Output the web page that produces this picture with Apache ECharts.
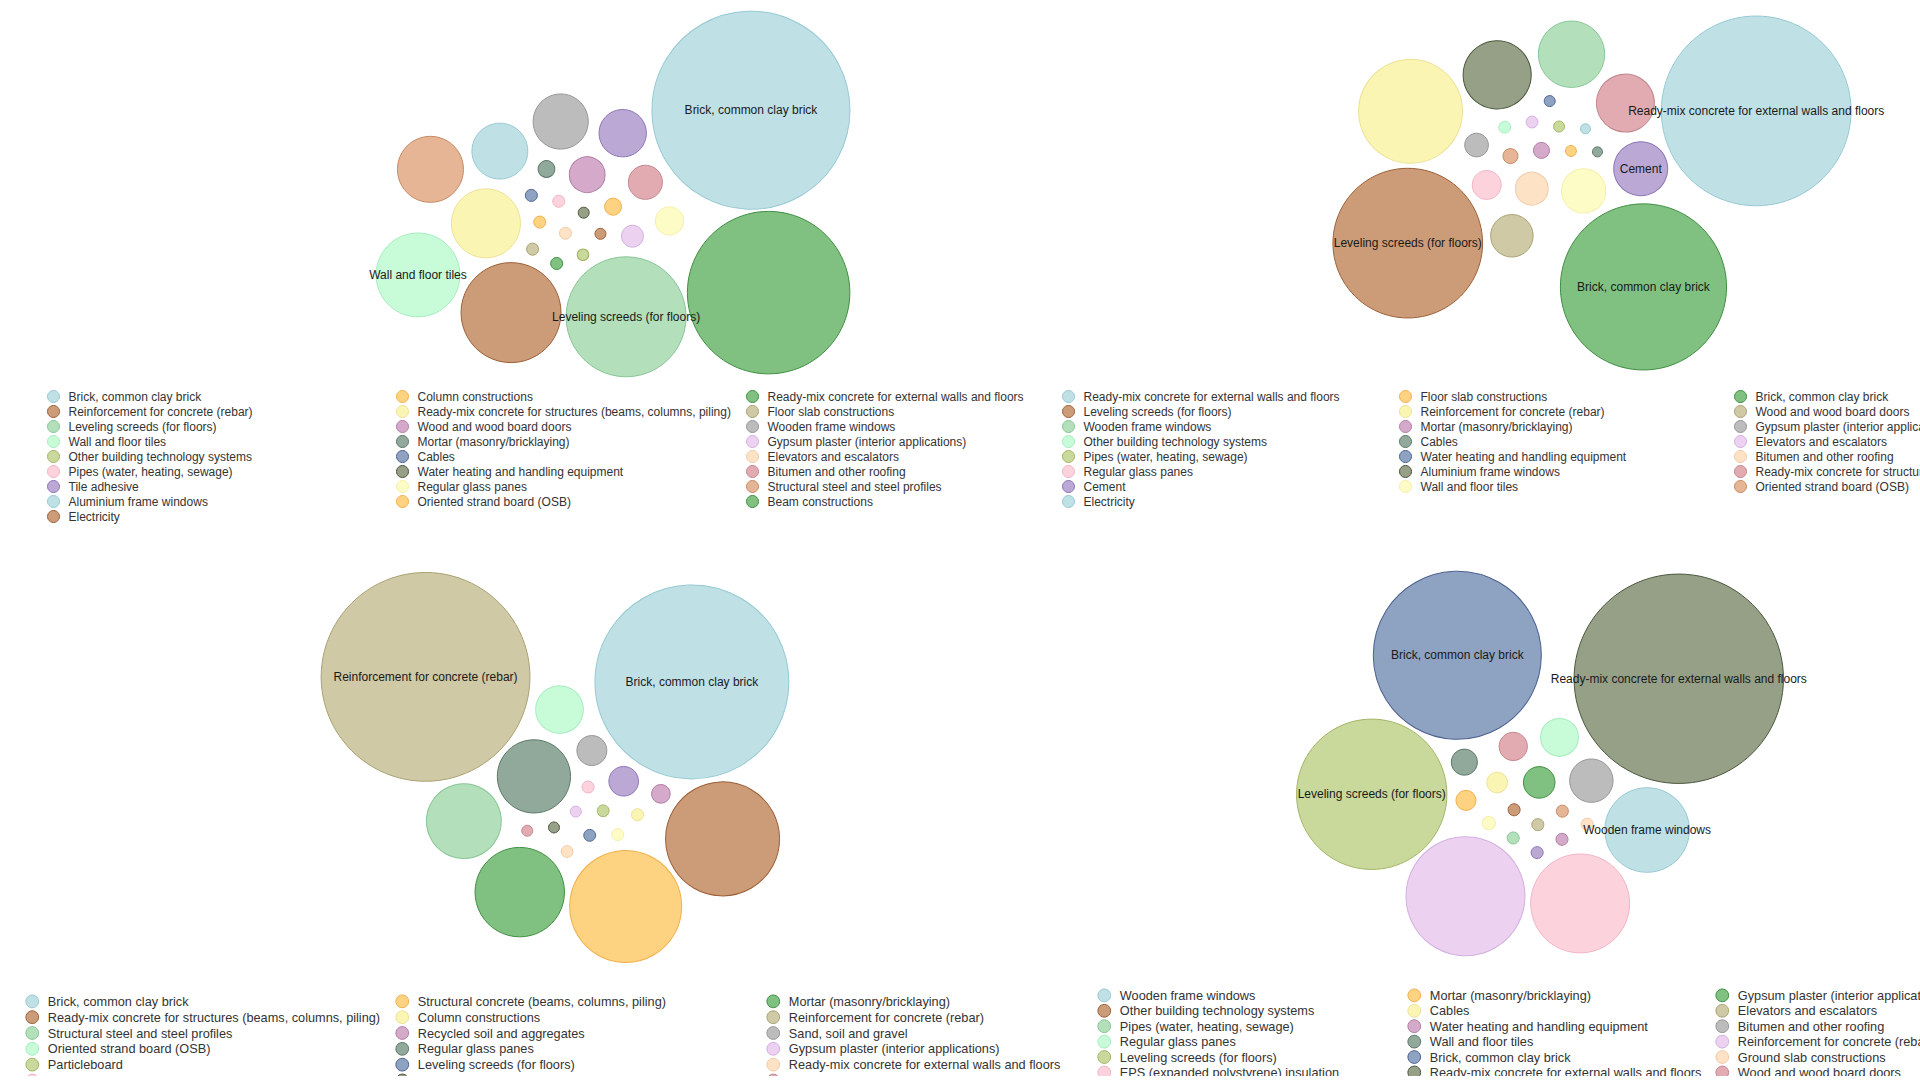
<!DOCTYPE html>
<html>
<head>
<meta charset="utf-8">
<title>Building materials – packed bubbles</title>
<script src="https://cdn.jsdelivr.net/npm/echarts@6.0.0/dist/echarts.min.js"></script>
<style>
  html, body { margin: 0; padding: 0; background: #ffffff; overflow: hidden; }
  #main { width: 1920px; height: 1076px; }
  #probe { position: absolute; left: -5000px; top: 0; width: 1000px; height: 1000px; }
</style>
</head>
<body>
<div id="main"></div>
<div id="probe"></div>
<script>
// ------------------------------------------------------------------
// DATA (values are bubble magnitudes)
// ------------------------------------------------------------------
const p1Names = [
  'Brick, common clay brick', 'Reinforcement for concrete (rebar)', 'Leveling screeds (for floors)',
  'Wall and floor tiles', 'Other building technology systems', 'Pipes (water, heating, sewage)',
  'Tile adhesive', 'Aluminium frame windows', 'Electricity',
  'Column constructions', 'Ready-mix concrete for structures (beams, columns, piling)', 'Wood and wood board doors',
  'Mortar (masonry/bricklaying)', 'Cables', 'Water heating and handling equipment',
  'Regular glass panes', 'Oriented strand board (OSB)',
  'Ready-mix concrete for external walls and floors', 'Floor slab constructions', 'Wooden frame windows',
  'Gypsum plaster (interior applications)', 'Elevators and escalators', 'Bitumen and other roofing',
  'Structural steel and steel profiles', 'Beam constructions'
];
const p1Values = [98, 25, 36, 17.6, 0.33, 0.36, 5.6, 7.8, 0.3,
  0.72, 11.9, 3.2, 0.7, 0.36, 0.3, 2.0, 0.36,
  66, 0.36, 7.6, 1.2, 0.36, 2.9, 10.9, 0.36];
const p1Labeled = ['Brick, common clay brick', 'Wall and floor tiles', 'Leveling screeds (for floors)'];

const p2Names = [
  'Ready-mix concrete for external walls and floors', 'Leveling screeds (for floors)', 'Wooden frame windows',
  'Other building technology systems', 'Pipes (water, heating, sewage)', 'Regular glass panes',
  'Cement', 'Electricity',
  'Floor slab constructions', 'Reinforcement for concrete (rebar)', 'Mortar (masonry/bricklaying)',
  'Cables', 'Water heating and handling equipment', 'Aluminium frame windows', 'Wall and floor tiles',
  'Brick, common clay brick', 'Wood and wood board doors', 'Gypsum plaster (interior applications)',
  'Elevators and escalators', 'Bitumen and other roofing',
  'Ready-mix concrete for structures (beams, columns, piling)', 'Oriented strand board (OSB)'
];
const p2Values = [90, 56, 11, 0.35, 0.3, 2.1, 7.3, 0.25,
  0.3, 27, 0.64, 0.25, 0.3, 11.6, 4.9,
  69, 4.5, 1.4, 0.35, 2.7, 8.4, 0.56];
const p2Labeled = ['Ready-mix concrete for external walls and floors', 'Cement',
  'Leveling screeds (for floors)', 'Brick, common clay brick'];

const p3Names = [
  'Brick, common clay brick', 'Ready-mix concrete for structures (beams, columns, piling)',
  'Structural steel and steel profiles', 'Oriented strand board (OSB)', 'Particleboard',
  'Pipes (water, heating, sewage)', 'Tile adhesive',
  'Structural concrete (beams, columns, piling)', 'Column constructions', 'Recycled soil and aggregates',
  'Regular glass panes', 'Leveling screeds (for floors)', 'Water heating and handling equipment',
  'Wall and floor tiles',
  'Mortar (masonry/bricklaying)', 'Reinforcement for concrete (rebar)', 'Sand, soil and gravel',
  'Gypsum plaster (interior applications)', 'Ready-mix concrete for external walls and floors',
  'Bitumen and other roofing'
];
const p3Values = [94, 32.5, 14, 5.7, 0.35, 0.36, 2.2,
  31.4, 0.36, 0.87, 13.4, 0.35, 0.3, 0.36,
  20, 109, 2.25, 0.3, 0.35, 0.3];
const p3Labeled = ['Reinforcement for concrete (rebar)', 'Brick, common clay brick'];

const p4Names = [
  'Wooden frame windows', 'Other building technology systems', 'Pipes (water, heating, sewage)',
  'Regular glass panes', 'Leveling screeds (for floors)', 'EPS (expanded polystyrene) insulation', 'Cement',
  'Mortar (masonry/bricklaying)', 'Cables', 'Water heating and handling equipment', 'Wall and floor tiles',
  'Brick, common clay brick', 'Ready-mix concrete for external walls and floors', 'Column constructions',
  'Gypsum plaster (interior applications)', 'Elevators and escalators', 'Bitumen and other roofing',
  'Reinforcement for concrete (rebar)', 'Ground slab constructions', 'Wood and wood board doors',
  'Oriented strand board (OSB)'
];
const p4Values = [17.9, 0.36, 0.36, 3.6, 56.5, 24.5, 0.36,
  1.0, 1.07, 0.36, 1.7, 70.6, 109.6, 0.42,
  2.5, 0.36, 4.7, 35.4, 0.36, 2.0, 0.36];
const p4Labeled = ['Brick, common clay brick', 'Ready-mix concrete for external walls and floors',
  'Leveling screeds (for floors)', 'Wooden frame windows'];

// ------------------------------------------------------------------
// STYLES
// ------------------------------------------------------------------
const PALETTE = {
  lightblue:  ['#bfe1e6', '#96c9d2'],
  brown:      ['#cc9c79', '#9c6038'],
  lightgreen: ['#b3dfba', '#88c697'],
  mint:       ['#c8fcd8', '#a6ecbf'],
  olive:      ['#c9d89b', '#a4b566'],
  pink:       ['#fcd2dd', '#f1b5c7'],
  purple:     ['#bba8d5', '#8a76b6'],
  orange:     ['#fdd280', '#f0b04e'],
  paleyellow: ['#fbf5b3', '#ede196'],
  paleyellow2:['#fdfcc6', '#f5efa9'],
  mauve:      ['#d5a9c9', '#b07ea6'],
  greygreen:  ['#91a99b', '#5c7869'],
  blue:       ['#8ea2c1', '#4e6291'],
  darkolive:  ['#95a087', '#4a563d'],
  green:      ['#80c081', '#3f8f42'],
  khaki:      ['#cfc9a5', '#a9a273'],
  grey:       ['#bcbcbc', '#969696'],
  lavender:   ['#ecd2f0', '#d2afe1'],
  peach:      ['#fee2c5', '#f1cba8'],
  rose:       ['#e1abb1', '#c4878f'],
  salmon:     ['#e5b596', '#c88a65']
};
const p1Colors = ['lightblue', 'brown', 'lightgreen', 'mint', 'olive', 'pink', 'purple', 'lightblue', 'brown',
  'orange', 'paleyellow', 'mauve', 'greygreen', 'blue', 'darkolive', 'paleyellow2', 'orange',
  'green', 'khaki', 'grey', 'lavender', 'peach', 'rose', 'salmon', 'green'];
const p2Colors = ['lightblue', 'brown', 'lightgreen', 'mint', 'olive', 'pink', 'purple', 'lightblue',
  'orange', 'paleyellow', 'mauve', 'greygreen', 'blue', 'darkolive', 'paleyellow2',
  'green', 'khaki', 'grey', 'lavender', 'peach', 'rose', 'salmon'];
const p3Colors = ['lightblue', 'brown', 'lightgreen', 'mint', 'olive', 'pink', 'purple',
  'orange', 'paleyellow', 'mauve', 'greygreen', 'blue', 'darkolive', 'paleyellow2',
  'green', 'khaki', 'grey', 'lavender', 'peach', 'rose'];
const p4Colors = ['lightblue', 'brown', 'lightgreen', 'mint', 'olive', 'pink', 'purple',
  'orange', 'paleyellow', 'mauve', 'greygreen', 'blue', 'darkolive', 'paleyellow2',
  'green', 'khaki', 'grey', 'lavender', 'peach', 'rose', 'salmon'];

const FONT = "'Liberation Sans', Arial, Helvetica, sans-serif";
const PX_PER_SQRT = 10;          // bubble radius = 10 * sqrt(value)

// panel layout: target box of the bubble cluster, orientation of the packing
// (angle of the largest bubble, side of the second one) and legend columns
const PANELS = [
  { names: p1Names, values: p1Values, colors: p1Colors, labeled: p1Labeled,
    box: [360, 14, 866, 374], leadAngle: -27, side: 1,
    legendLeft: [47, 396, 746], legendTop: 390, legendScale: 1, legendGap: 2 },
  { names: p2Names, values: p2Values, colors: p2Colors, labeled: p2Labeled,
    box: [1340, 12, 1844, 374], leadAngle: -29, side: 1,
    legendLeft: [1062, 1399, 1734], legendTop: 390, legendScale: 1, legendGap: 2 },
  { names: p3Names, values: p3Values, colors: p3Colors, labeled: p3Labeled,
    box: [300, 560, 810, 975], leadAngle: -146, side: 1,
    legendLeft: [25.4, 395.4, 766.4], legendTop: 994.5, legendScale: 1.06, legendGap: 2.1 },
  { names: p4Names, values: p4Values, colors: p4Colors, labeled: p4Labeled,
    box: [1280, 555, 1800, 972], leadAngle: -33, side: -1,
    legendLeft: [1097.4, 1407.4, 1715.4], legendTop: 988.5, legendScale: 1.06, legendGap: 1.7 }
];

// ------------------------------------------------------------------
// Packed-bubble layout: seed from ECharts' own force layout, then resolve contacts
// ------------------------------------------------------------------
const PROBE = 400;

function probeRun(chart, nodeVals, sizes, rho, order) {
  chart.setOption({
    animation: false,
    series: [{
      type: 'graph', layout: 'force', left: 300, top: 300, width: PROBE, height: PROBE,
      animation: false, roam: false,
      data: order.map(i => ({ name: 'n' + i, value: nodeVals[i], symbolSize: sizes[i] })),
      edges: [],
      force: { initLayout: 'circular', repulsion: [100 * rho, 100], gravity: 0.1, layoutAnimation: false }
    }]
  }, true);
  const data = chart.getModel().getSeriesByIndex(0).getData();
  const pts = new Array(order.length);
  for (let k = 0; k < data.count(); k++) {
    const p = data.getItemLayout(k);
    pts[order[k]] = [p[0] - 500, p[1] - 500];
  }
  return pts;
}

// clearance halo: small bubbles keep more air around them, big ones nearly touch
function halo(r) { return Math.max(1.5, Math.min(8, 9 - 0.12 * r)); }

function collide(p, radii, halos) {
  const n = p.length;
  for (let i = 0; i < n; i++) {
    for (let j = i + 1; j < n; j++) {
      let dx = p[j][0] - p[i][0], dy = p[j][1] - p[i][1];
      let d = Math.hypot(dx, dy);
      const need = radii[i] + radii[j] + halos[i] + halos[j];
      if (d < need) {
        let ux, uy;
        if (d < 1e-6) { ux = 1; uy = 0; d = 0; } else { ux = dx / d; uy = dy / d; }
        const o = (need - d) / 2;
        p[i][0] -= ux * o; p[i][1] -= uy * o;
        p[j][0] += ux * o; p[j][1] += uy * o;
      }
    }
  }
}

function orient(seed, values, leadDeg, side) {
  const order = values.map((v, i) => i).sort((a, b) => values[b] - values[a]);
  const i0 = order[0], i1 = order[1];
  const lead = leadDeg * Math.PI / 180;
  const rot = lead - Math.atan2(seed[i0][1], seed[i0][0]);
  const c = Math.cos(rot), s = Math.sin(rot);
  let p = seed.map(q => [q[0] * c - q[1] * s, q[0] * s + q[1] * c]);
  let d = Math.atan2(p[i1][1], p[i1][0]) - lead;
  while (d > Math.PI) d -= 2 * Math.PI;
  while (d <= -Math.PI) d += 2 * Math.PI;
  if (Math.sign(d) !== side) {
    // mirror across the axis through the origin at the lead angle
    const c2 = Math.cos(2 * lead), s2 = Math.sin(2 * lead);
    p = p.map(q => [q[0] * c2 + q[1] * s2, q[0] * s2 - q[1] * c2]);
  }
  return p;
}

function relax(seed, radii, halos, aspect) {
  const n = seed.length;
  const ratios = [];
  for (let i = 0; i < n; i++) {
    let m = Infinity;
    for (let j = 0; j < n; j++) {
      if (j === i) continue;
      const d = Math.hypot(seed[i][0] - seed[j][0], seed[i][1] - seed[j][1]) || 1e-6;
      m = Math.min(m, d / (radii[i] + radii[j] + halos[i] + halos[j]));
    }
    ratios.push(m);
  }
  ratios.sort((a, b) => a - b);
  const s0 = 1 / ratios[Math.floor(n / 2)];
  const p = seed.map(q => [q[0] * s0, q[1] * s0]);
  const kx = 0.006, ky = kx * aspect * aspect;
  for (let it = 0; it < 260; it++) {
    for (const q of p) { q[0] *= 1 - kx; q[1] *= 1 - ky; }
    collide(p, radii, halos); collide(p, radii, halos);
  }
  for (let it = 0; it < 80; it++) collide(p, radii, halos);
  return p;
}

function bboxOf(pts, radii) {
  let x0 = Infinity, y0 = Infinity, x1 = -Infinity, y1 = -Infinity;
  pts.forEach((p, i) => {
    x0 = Math.min(x0, p[0] - radii[i]); x1 = Math.max(x1, p[0] + radii[i]);
    y0 = Math.min(y0, p[1] - radii[i]); y1 = Math.max(y1, p[1] + radii[i]);
  });
  return [x0, y0, x1, y1];
}

function makeOrders(values) {
  const n = values.length;
  const ident = values.map((v, i) => i);
  const desc = ident.slice().sort((a, b) => values[b] - values[a]);
  const inter = [];
  let lo = 0, hi = n - 1;
  while (lo <= hi) { inter.push(desc[lo++]); if (lo <= hi) inter.push(desc[hi--]); }
  const spread = [];
  const bigCount = Math.min(6, n);
  const rest = desc.slice(bigCount);
  const per = Math.ceil(rest.length / bigCount);
  for (let b = 0; b < bigCount; b++) {
    spread.push(desc[b]);
    rest.slice(b * per, (b + 1) * per).forEach(i => spread.push(i));
  }
  return [ident, desc, inter, spread];
}

function fallbackSeed(values) {
  const asc = values.map((v, i) => i).sort((a, b) => values[a] - values[b]);
  const pts = new Array(values.length);
  asc.forEach((idx, k) => {
    const a = k * 2.39996, r = 12 * Math.sqrt(k + 1);
    pts[idx] = [r * Math.cos(a), r * Math.sin(a)];
  });
  return pts;
}

let probeChart = null;
try { probeChart = echarts.init(document.getElementById('probe')); } catch (e) { probeChart = null; }

function layoutPanel(panel) {
  const radii = panel.values.map(v => PX_PER_SQRT * Math.sqrt(v));
  const halos = radii.map(halo);
  const sizes = radii.map(r => 2 * r);
  const tw = panel.box[2] - panel.box[0], th = panel.box[3] - panel.box[1];
  const aspect = tw / th;
  const seeds = [];
  if (probeChart && typeof probeChart.getModel === 'function') {
    makeOrders(panel.values).forEach(order => {
      [1, 0.6].forEach(gamma => {
        const nodeVals = panel.values.map(v => Math.pow(v, gamma));
        [0.01, 0.05, 0.15, 0.4].forEach(rho => {
          try {
            const pts = probeRun(probeChart, nodeVals, sizes, rho, order);
            if (pts.every(p => p && isFinite(p[0]) && isFinite(p[1]))) seeds.push(pts);
          } catch (e) { /* skip */ }
        });
      });
    });
  }
  if (!seeds.length) seeds.push(fallbackSeed(panel.values));
  let best = null;
  seeds.forEach(seed => {
    const p = relax(orient(seed, panel.values, panel.leadAngle, panel.side), radii, halos, aspect);
    const bb = bboxOf(p, radii);
    const w = bb[2] - bb[0], h = bb[3] - bb[1];
    const score = Math.max(w / tw, h / th) + 0.1 * (w * h) / (tw * th);
    if (!best || score < best.score) best = { p, bb, score };
  });
  const cx = (panel.box[0] + panel.box[2]) / 2 - (best.bb[0] + best.bb[2]) / 2;
  const cy = (panel.box[1] + panel.box[3]) / 2 - (best.bb[1] + best.bb[3]) / 2;
  return { pos: best.p.map(q => [q[0] + cx, q[1] + cy]), sizes };
}

const layouts = PANELS.map(layoutPanel);
if (probeChart) { probeChart.dispose(); }

// ------------------------------------------------------------------
// Build the chart
// ------------------------------------------------------------------
const series = [];
const legends = [];

PANELS.forEach((panel, pi) => {
  const { pos, sizes } = layouts[pi];
  const style = i => ({ color: PALETTE[panel.colors[i]][0], borderColor: PALETTE[panel.colors[i]][1], borderWidth: 1 });
  let x0 = Infinity, y0 = Infinity, x1 = -Infinity, y1 = -Infinity;
  pos.forEach(q => { x0 = Math.min(x0, q[0]); x1 = Math.max(x1, q[0]); y0 = Math.min(y0, q[1]); y1 = Math.max(y1, q[1]); });

  series.push({
    type: 'graph',
    layout: 'none',
    // view box equals the extent of the node positions -> 1:1 pixel mapping
    left: x0, top: y0, width: x1 - x0, height: y1 - y0,
    roam: false,
    animation: false,
    emphasis: { disabled: true },
    categories: panel.names.map((n, i) => ({ name: n, itemStyle: style(i) })),
    data: panel.names.map((n, i) => ({
      name: n,
      value: panel.values[i],
      x: pos[i][0],
      y: pos[i][1],
      category: i,
      symbolSize: sizes[i],
      itemStyle: style(i),
      label: { show: panel.labeled.indexOf(n) >= 0 }
    })),
    edges: [],
    label: { position: 'inside', fontSize: 12, color: '#1a1a1a', fontFamily: FONT, formatter: '{b}' }
  });

  const n = panel.names.length;
  const base = Math.floor(n / 3), extra = n % 3;
  const sc = panel.legendScale;
  let start = 0;
  for (let c = 0; c < 3; c++) {
    const cnt = base + (c < extra ? 1 : 0);
    const idx = [];
    for (let i = start; i < start + cnt; i++) idx.push(i);
    start += cnt;
    legends.push({
      type: 'plain',
      orient: 'vertical',
      left: panel.legendLeft[c],
      top: panel.legendTop,
      height: 400,
      padding: 0,
      itemGap: panel.legendGap,
      itemWidth: 20 * sc,
      itemHeight: 12 * sc,
      icon: 'circle',
      selectedMode: false,
      textStyle: { fontSize: 12 * sc, color: '#333333', fontFamily: FONT },
      data: idx.map(i => ({ name: panel.names[i], itemStyle: style(i) }))
    });
  }
});

const chart = echarts.init(document.getElementById('main'), null, { renderer: 'svg' });
chart.setOption({
  backgroundColor: '#ffffff',
  animation: false,
  textStyle: { fontFamily: FONT },
  legend: legends,
  series: series
});
</script>
</body>
</html>
